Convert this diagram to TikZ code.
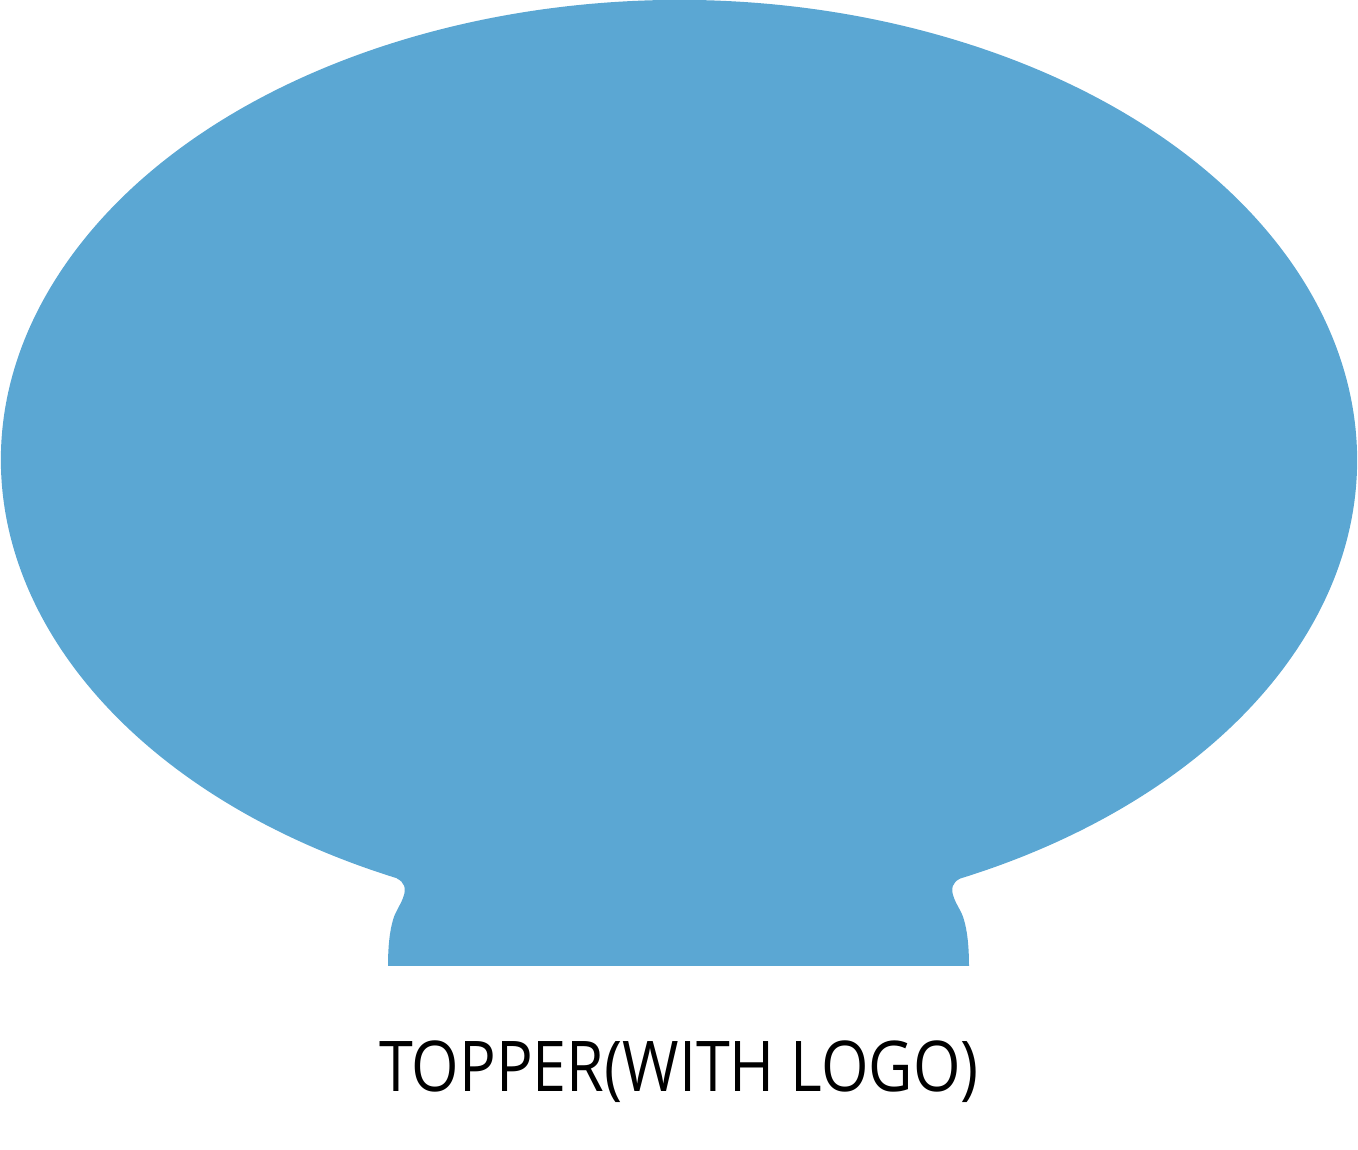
\documentclass[tikz,border=0pt]{standalone}
\usepackage{fontspec}
\setmainfont{Open Sans}
\definecolor{topblue}{RGB}{91,167,211}
\begin{document}
\begin{tikzpicture}[x=1pt,y=1pt,
  shapefill/.style={fill=topblue,draw=none},
  labeltext/.style={font=\fontsize{70}{84}\selectfont,text=black,inner sep=0pt,anchor=base}]
\useasboundingbox (0,0) rectangle (1358,1150);
% topper shape (image y -> 1150 - y)
\fill[shapefill]
  (679,690) ++(245.5:678 and 460)
  arc[start angle=245.5,end angle=-65.5,x radius=678,y radius=460]
  .. controls (953,268) and (950,262) .. (954,252)
  .. controls (957,244) and (962,238) .. (964,230)
  .. controls (967,220) and (969,205) .. (969,184)
  -- (388,184)
  .. controls (388,205) and (390,220) .. (393,230)
  .. controls (395,238) and (400,244) .. (403,252)
  .. controls (407,262) and (404,268) .. (397,271.4)
  -- cycle;
\node[labeltext] (label) at (679,58) {\scalebox{0.872}[1]{TOPPER(WITH LOGO)}};
\end{tikzpicture}
\end{document}
